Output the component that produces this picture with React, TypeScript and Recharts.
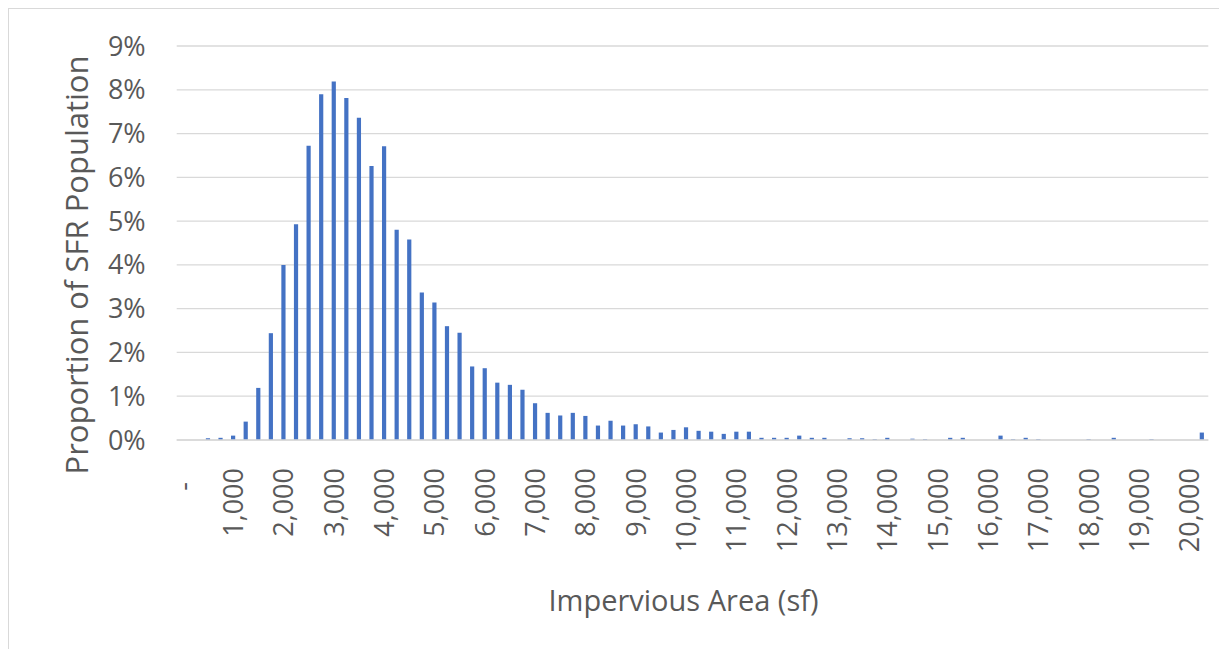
import React from "react";
import { BarChart, Bar, XAxis, YAxis, CartesianGrid } from "recharts";

const bins = [
  0, 250, 500, 750, 1000, 1250, 1500, 1750, 2000, 2250, 2500, 2750, 3000, 3250, 3500, 3750,
  4000, 4250, 4500, 4750, 5000, 5250, 5500, 5750, 6000, 6250, 6500, 6750, 7000, 7250, 7500, 7750,
  8000, 8250, 8500, 8750, 9000, 9250, 9500, 9750, 10000, 10250, 10500, 10750, 11000, 11250, 11500, 11750,
  12000, 12250, 12500, 12750, 13000, 13250, 13500, 13750, 14000, 14250, 14500, 14750, 15000, 15250, 15500, 15750,
  16000, 16250, 16500, 16750, 17000, 17250, 17500, 17750, 18000, 18250, 18500, 18750, 19000, 19250, 19500, 19750,
  20000, 20250,
];

// percent of SFR population in each bin
const shares = [
  0, 0, 0.04, 0.05, 0.1, 0.42, 1.19, 2.44, 4.0, 4.93, 6.72, 7.9, 8.19, 7.81, 7.36, 6.26,
  6.71, 4.8, 4.58, 3.37, 3.14, 2.6, 2.45, 1.68, 1.64, 1.31, 1.26, 1.15, 0.84, 0.62, 0.56, 0.62,
  0.55, 0.33, 0.44, 0.33, 0.36, 0.31, 0.17, 0.23, 0.29, 0.21, 0.19, 0.14, 0.19, 0.19, 0.05, 0.05,
  0.05, 0.1, 0.05, 0.05, 0, 0.04, 0.04, 0.02, 0.05, 0, 0.03, 0.02, 0, 0.05, 0.05, 0,
  0, 0.1, 0.02, 0.05, 0.02, 0, 0, 0, 0.02, 0, 0.05, 0, 0, 0.02, 0, 0,
  0, 0.17,
];

const xTickValues = [
  0, 1000, 2000, 3000, 4000, 5000, 6000, 7000, 8000, 9000, 10000,
  11000, 12000, 13000, 14000, 15000, 16000, 17000, 18000, 19000, 20000,
];
const xTickLabels = [
  "-", "1,000", "2,000", "3,000", "4,000", "5,000", "6,000", "7,000", "8,000", "9,000", "10,000",
  "11,000", "12,000", "13,000", "14,000", "15,000", "16,000", "17,000", "18,000", "19,000", "20,000",
];
const yTicks = [0, 1, 2, 3, 4, 5, 6, 7, 8, 9];

const data = bins.map((b, i) => ({ bin: b, share: shares[i] }));

const FONT = "'Open Sans', 'Noto Sans', sans-serif";
const TEXT = "#595959";
const GRID = "#d9d9d9";

const XTick = (props: any) => {
  const { x, y, payload } = props;
  const idx = xTickValues.indexOf(payload.value);
  if (idx < 0) return null;
  let label = xTickLabels[idx];
  if (label === "-") label = "-\u00a0\u00a0";
  const ty = y + 28;
  return (
    <text
      x={x}
      y={ty}
      transform={`rotate(-90, ${x}, ${ty})`}
      textAnchor="end"
      dy="0.36em"
      fill={TEXT}
      fontSize={27}
      fontFamily={FONT}
    >
      {label}
    </text>
  );
};

const XTitle = (props: any) => {
  const vb = props.viewBox || {};
  const cx = vb.x + vb.width / 2 - 9;
  const by = vb.y + 171;
  return (
    <text x={cx} y={by} textAnchor="middle" fill={TEXT} fontSize={29} fontFamily={FONT}>
      Impervious Area (sf)
    </text>
  );
};

const YTitle = () => {
  const bx = 79;
  const cy = 256;
  return (
    <text
      x={bx}
      y={cy}
      transform={`rotate(-90, ${bx}, ${cy})`}
      textAnchor="middle"
      fill={TEXT}
      fontSize={31}
      fontFamily={FONT}
    >
      Proportion of SFR Population
    </text>
  );
};

export default function App() {
  return (
    <div
      style={{
        width: 1218,
        height: 648,
        marginBottom: -8,
        borderTop: `1px solid ${GRID}`,
        borderLeft: `1px solid ${GRID}`,
        background: "#fff",
      }}
    >
      <BarChart
        width={1218}
        height={639}
        data={data}
        margin={{ top: 37, right: 18.7, bottom: 0, left: 0 }}
      >
        <CartesianGrid vertical={false} stroke={GRID} strokeWidth={1.3} />
        <XAxis
          dataKey="bin"
          type="category"
          interval={3}
          height={208}
          axisLine={{ stroke: GRID, strokeWidth: 1.3 }}
          tickLine={false}
          tickSize={0}
          tickMargin={0}
          tick={<XTick />}
          label={<XTitle />}
        />
        <YAxis
          width={167.7}
          domain={[0, 9]}
          ticks={yTicks}
          tickFormatter={(v: number) => `${v}%`}
          axisLine={false}
          tickLine={false}
          tickSize={0}
          tickMargin={31}
          tick={{ fill: TEXT, fontSize: 27, fontFamily: FONT }}
          label={<YTitle />}
        />
        <Bar dataKey="share" fill="#4472c4" barSize={4.2} isAnimationActive={false} />
      </BarChart>
    </div>
  );
}
